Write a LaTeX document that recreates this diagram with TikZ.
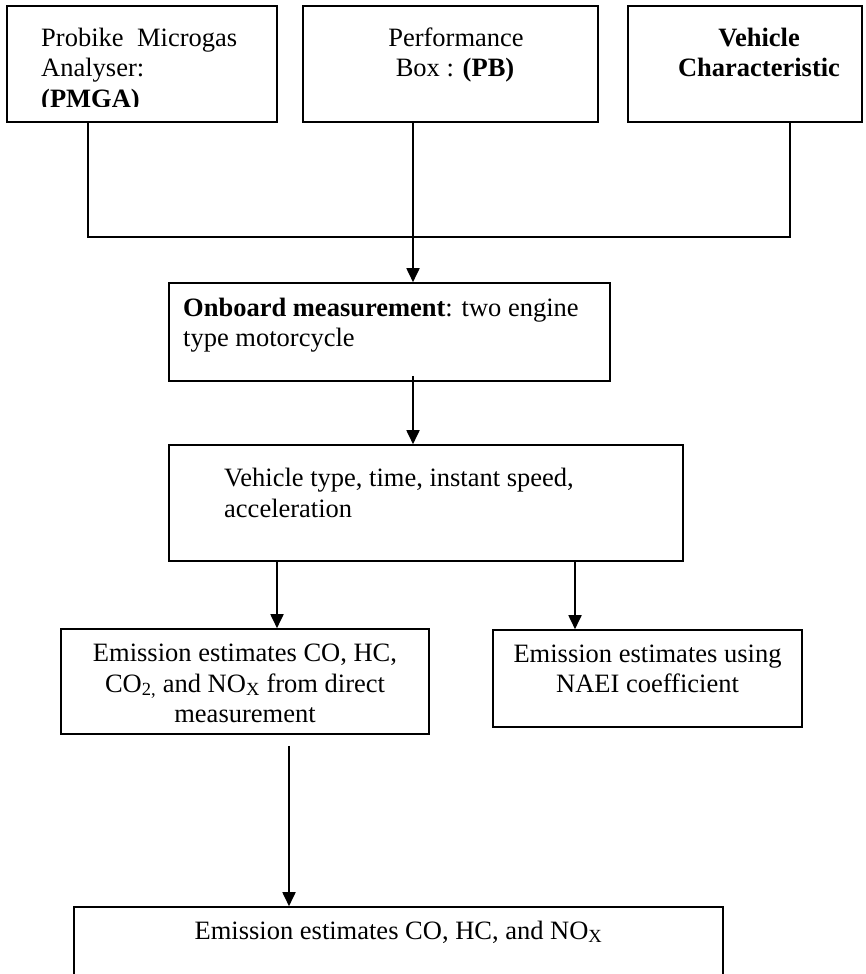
\documentclass[tikz,border=0pt]{standalone}
\usepackage{fontspec}
\setmainfont{Liberation Serif}
\usetikzlibrary{arrows.meta}
\begin{document}
\begin{tikzpicture}[x=1pt,y=-1pt,
  box/.style={draw, line width=1.6pt, rectangle, inner sep=0pt},
  lbl/.style={inner sep=0pt, font=\fontsize{26.5}{30}\selectfont},
  conn/.style={line width=1.8pt},
  arr/.style={conn, -{Triangle[length=14pt,width=13pt]}}]
\useasboundingbox (0,0) rectangle (865,974);
\clip (0,0) rectangle (865,974);

% boxes
\node[box, minimum width=270pt, minimum height=116pt] (pmga) at (142,64) {};
\node[box, minimum width=295pt, minimum height=116pt] (pb) at (450.5,64) {};
\node[box, minimum width=234pt, minimum height=116pt] (vc) at (745,64) {};
\node[box, minimum width=441pt, minimum height=98pt] (onb) at (389.5,332) {};
\node[box, minimum width=514pt, minimum height=116pt] (veh) at (426,503) {};
\node[box, minimum width=368pt, minimum height=105pt] (e4) at (245,681.5) {};
\node[box, minimum width=309pt, minimum height=97pt] (e5) at (647.5,678.5) {};
\node[box, minimum width=649pt, minimum height=93pt] (e6) at (398.5,953.5) {};

% texts
\begin{scope}
\clip (7,6) rectangle (277,106);
\node[lbl, anchor=base west] (t1a) at (41,47) {\makebox[196pt][s]{Probike Microgas}};
\node[lbl, anchor=base west] (t1b) at (41,77) {Analyser:};
\node[lbl, anchor=base west] (t1c) at (41,107) {\textbf{(PMGA)}};
\end{scope}
\node[lbl, anchor=base] (t2a) at (456,47) {Performance};
\node[lbl, anchor=base] (t2b) at (455,77) {Box : \textbf{(PB)}};
\node[lbl, anchor=base] (t3a) at (759,47) {\textbf{Vehicle}};
\node[lbl, anchor=base] (t3b) at (759,77) {\textbf{Characteristic}};
\node[lbl, anchor=base west] (t4a) at (183,316) {\textbf{Onboard measurement}: two engine};
\node[lbl, anchor=base west] (t4b) at (183,346) {type motorcycle};
\node[lbl, anchor=base west] (t5a) at (224,486) {Vehicle type, time, instant speed,};
\node[lbl, anchor=base west] (t5b) at (224,517) {acceleration};
\node[lbl, anchor=base] (t6a) at (245,661) {Emission estimates CO, HC,};
\node[lbl, anchor=base] (t6b) at (245,692) {CO\textsubscript{2,} and NO\textsubscript{X} from direct};
\node[lbl, anchor=base] (t6c) at (245,722) {measurement};
\node[lbl, anchor=base] (t7a) at (647.5,662) {Emission estimates using};
\node[lbl, anchor=base] (t7b) at (647.5,692) {NAEI coefficient};
\node[lbl, anchor=base] (t8a) at (398.5,939) {Emission estimates CO, HC, and NO\textsubscript{X}};

% connector positions
\coordinate (l) at (88,0);
\coordinate (r) at (790,0);
\coordinate (j) at (0,237);
\coordinate (m) at (413,0);
\coordinate (a4) at (277,0);
\coordinate (a5) at (575,0);
\coordinate (b) at (289,0);
\coordinate (s4) at ([yshift=-11pt]e4.south);
\coordinate (s2) at ([yshift=6pt]onb.south);

\draw[conn] (pmga.south -| l) -- (l |- j) -- (r |- j) -- (vc.south -| r);
\draw[arr] (pb.south -| m) -- (onb.north -| m);
\draw[arr] (s2 -| m) -- (veh.north -| m);
\draw[arr] (veh.south -| a4) -- (e4.north -| a4);
\draw[arr] (veh.south -| a5) -- (e5.north -| a5);
\draw[arr] (s4 -| b) -- (e6.north -| b);
\end{tikzpicture}
\end{document}
